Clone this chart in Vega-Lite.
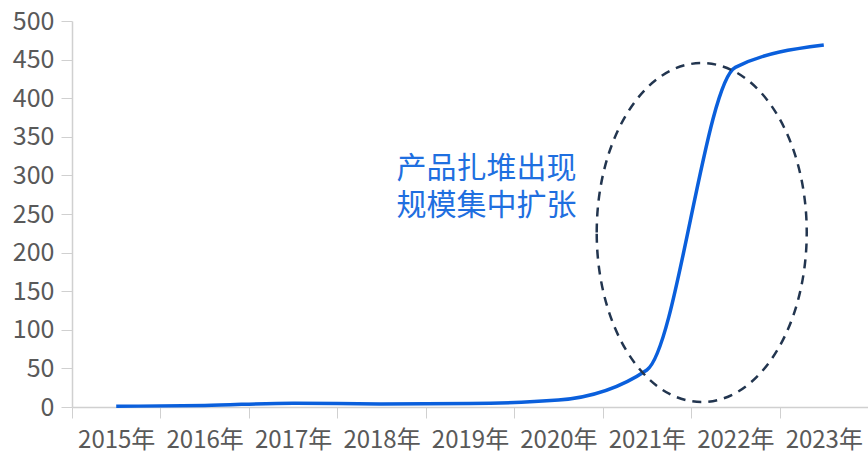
{
  "$schema": "https://vega.github.io/schema/vega-lite/v6.json",
  "width": 796,
  "height": 386,
  "autosize": "none",
  "padding": {"left": 72, "top": 21, "right": 0, "bottom": 48},
  "background": "white",
  "config": {
    "view": {"stroke": null},
    "font": "Noto Sans CJK SC",
    "axis": {
      "grid": false,
      "domainColor": "#d0d0d0",
      "tickColor": "#d0d0d0",
      "labelColor": "#595959",
      "labelFont": "Noto Sans CJK SC",
      "labelOverlap": false,
      "title": null,
      "tickSize": 11,
      "domainWidth": 1.5
    },
    "axisX": {"labelFontSize": 24, "labelPadding": 10, "labelBaseline": "top", "labelAngle": 0, "tickBand": "extent"},
    "axisY": {"labelFontSize": 25, "labelPadding": 7, "labelFlush": false, "tickCount": 10}
  },
  "datasets": {
    "series": [
      {"year": "2015年", "value": 1},
      {"year": "2016年", "value": 2},
      {"year": "2017年", "value": 5},
      {"year": "2018年", "value": 4},
      {"year": "2019年", "value": 4.5},
      {"year": "2020年", "value": 9},
      {"year": "2021年", "value": 48},
      {"year": "2022年", "value": 440},
      {"year": "2023年", "value": 469}
    ],
    "ellipse": [{"year": "2022年", "value": 226}],
    "notes": [
      {"year": "2018年", "value": 308, "label": "产品扎堆出现"},
      {"year": "2018年", "value": 260, "label": "规模集中扩张"}
    ]
  },
  "layer": [
    {
      "data": {"name": "series"},
      "mark": {"type": "line", "interpolate": "monotone", "color": "#0a5fdc", "strokeWidth": 3.5},
      "encoding": {
        "x": {
          "field": "year", "type": "ordinal", "sort": null,
          "scale": {"type": "band", "paddingInner": 0, "paddingOuter": 0}
        },
        "y": {
          "field": "value", "type": "quantitative",
          "scale": {"domain": [0, 500], "nice": false}
        }
      }
    },
    {
      "data": {"name": "ellipse"},
      "mark": {
        "type": "point",
        "shape": "M -0.6195 0 A 0.6195 1 0 1 1 0.6195 0 A 0.6195 1 0 1 1 -0.6195 0 Z",
        "size": 114921,
        "filled": false,
        "stroke": "#22354f",
        "strokeWidth": 2.5,
        "strokeDash": [9, 7],
        "opacity": 1
      },
      "encoding": {
        "x": {"field": "year", "type": "ordinal", "bandPosition": 0.12},
        "y": {"field": "value", "type": "quantitative"}
      }
    },
    {
      "data": {"name": "notes"},
      "mark": {"type": "text", "align": "left", "baseline": "middle", "fontSize": 30, "color": "#1f6fe0", "font": "Noto Sans CJK SC"},
      "encoding": {
        "x": {"field": "year", "type": "ordinal", "bandPosition": 0.67},
        "y": {"field": "value", "type": "quantitative"},
        "text": {"field": "label"}
      }
    }
  ]
}
